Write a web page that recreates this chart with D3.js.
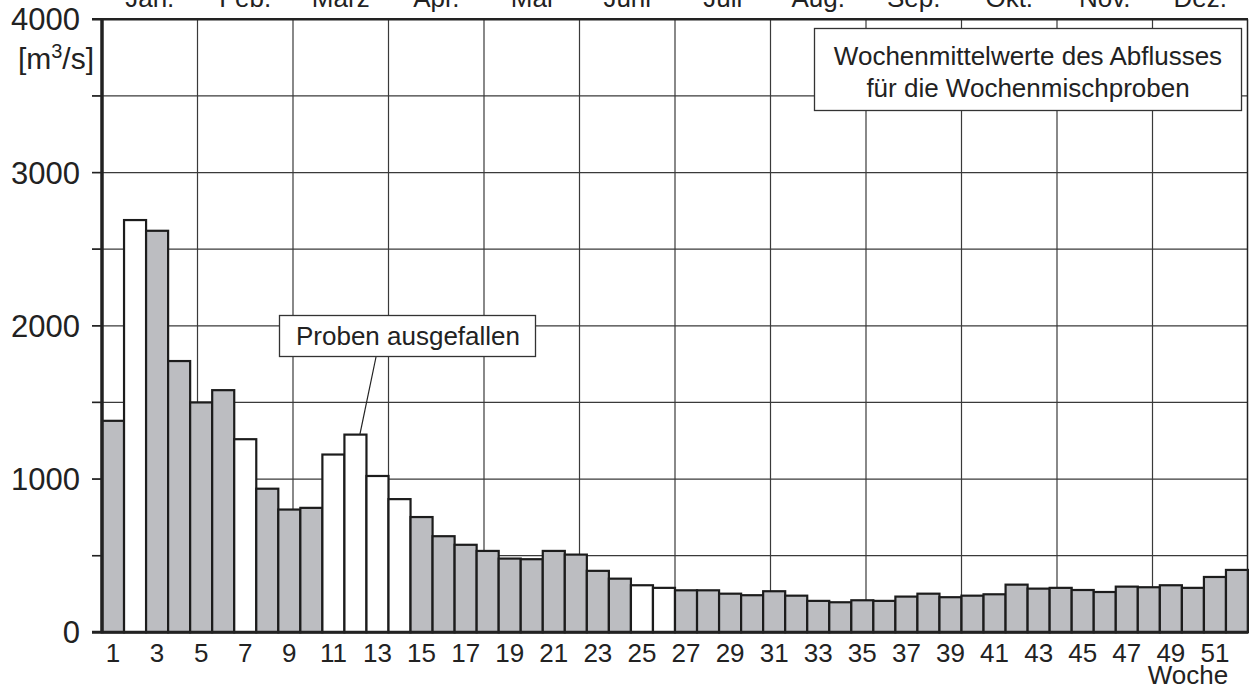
<!DOCTYPE html>
<html>
<head>
<meta charset="utf-8">
<script src="https://cdn.jsdelivr.net/npm/d3@7"></script>
<style>
  body { margin: 0; background: #fff; }
  svg text { font-family: "Liberation Sans", Arial, Helvetica, sans-serif; fill: #222; }
</style>
</head>
<body>
<div id="chart"></div>
<script>

  // ---------------------------//
  //            DATA            //
  // ---------------------------//

  var weeks = d3.range(1, 53);
  var discharge = [1380, 2690, 2620, 1770, 1500, 1580, 1260, 937, 801, 812,
                   1160, 1290, 1020, 869, 752, 627, 571, 531, 481, 477,
                   531, 507, 401, 350, 307, 290, 274, 274, 252, 242,
                   268, 239, 205, 196, 209, 205, 233, 252, 229, 239,
                   248, 311, 285, 290, 276, 263, 298, 294, 307, 290,
                   361, 407];
  // weeks without samples (drawn white)
  var missingWeeks = [2, 7, 11, 12, 13, 14, 25, 26];
  var months = ["Jan.", "Feb.", "März", "Apr.", "Mai", "Juni", "Juli", "Aug.", "Sep.", "Okt.", "Nov.", "Dez."];
  var yTicks = [0, 1000, 2000, 3000, 4000];
  var yGrid = d3.range(0, 4001, 500);
  var xTickWeeks = d3.range(1, 52, 2);
  var legendLines = ["Wochenmittelwerte des Abflusses", "für die Wochenmischproben"];
  var noteText = "Proben ausgefallen";
  var noteWeek = 12;

  // ---------------------------//
  //         DIMENSIONS         //
  // ---------------------------//

  var width = 1249;
  var height = 689;
  var margin = { top: 19.3, right: 1, bottom: 56.7, left: 102 };

  var svg = d3.select("#chart")
    .append("svg")
    .attr("width", width)
    .attr("height", height);

  // ---------------------------//
  //           SCALES           //
  // ---------------------------//

  var x = d3.scaleBand()
    .domain(weeks)
    .range([margin.left, width - margin.right])
    .padding(0);

  var xMonth = d3.scaleLinear()
    .domain([0, 12])
    .range([margin.left, width - margin.right]);

  var y = d3.scaleLinear()
    .domain([0, 4000])
    .range([height - margin.bottom, margin.top]);

  // ---------------------------//
  //            GRID            //
  // ---------------------------//

  svg.append("g")
    .selectAll("line")
    .data(yGrid.filter(function(d) { return d > 0 && d < 4000; }))
    .enter()
    .append("line")
    .attr("x1", margin.left - 10)
    .attr("x2", width - margin.right)
    .attr("y1", function(d) { return y(d); })
    .attr("y2", function(d) { return y(d); })
    .attr("stroke", "#3a3a3a")
    .attr("stroke-width", 1.2);

  svg.append("g")
    .selectAll("line")
    .data(d3.range(1, 12))
    .enter()
    .append("line")
    .attr("x1", function(d) { return xMonth(d); })
    .attr("x2", function(d) { return xMonth(d); })
    .attr("y1", y(4000))
    .attr("y2", y(0))
    .attr("stroke", "#3a3a3a")
    .attr("stroke-width", 1.2);

  // ---------------------------//
  //            BARS            //
  // ---------------------------//

  svg.append("g")
    .selectAll("rect")
    .data(weeks)
    .enter()
    .append("rect")
    .attr("x", function(d) { return x(d); })
    .attr("y", function(d) { return y(discharge[d - 1]); })
    .attr("width", x.bandwidth())
    .attr("height", function(d) { return y(0) - y(discharge[d - 1]); })
    .attr("fill", function(d) { return missingWeeks.indexOf(d) >= 0 ? "#ffffff" : "#bcbdc1"; })
    .attr("stroke", "#1c1c1c")
    .attr("stroke-width", 2.2);

  // ---------------------------//
  //            AXES            //
  // ---------------------------//

  // frame
  svg.append("line")
    .attr("x1", margin.left - 10).attr("x2", width - margin.right)
    .attr("y1", y(4000)).attr("y2", y(4000))
    .attr("stroke", "#222").attr("stroke-width", 2.5);

  svg.append("line")
    .attr("x1", width - margin.right - 0.5).attr("x2", width - margin.right - 0.5)
    .attr("y1", y(4000)).attr("y2", y(0))
    .attr("stroke", "#222").attr("stroke-width", 1.5);

  svg.append("line")
    .attr("x1", margin.left).attr("x2", margin.left)
    .attr("y1", y(4000)).attr("y2", y(0) + 1)
    .attr("stroke", "#222").attr("stroke-width", 3.5);

  svg.append("line")
    .attr("x1", margin.left - 10).attr("x2", width - margin.right)
    .attr("y1", y(0)).attr("y2", y(0))
    .attr("stroke", "#222").attr("stroke-width", 3);

  // y ticks
  svg.append("g")
    .selectAll("line")
    .data(yGrid)
    .enter()
    .append("line")
    .attr("x1", margin.left - 10)
    .attr("x2", margin.left)
    .attr("y1", function(d) { return y(d); })
    .attr("y2", function(d) { return y(d); })
    .attr("stroke", "#222")
    .attr("stroke-width", 1.5);

  svg.append("g")
    .selectAll("text")
    .data(yTicks)
    .enter()
    .append("text")
    .attr("x", 80)
    .attr("y", function(d) { return y(d); })
    .attr("dy", "0.36em")
    .attr("text-anchor", "end")
    .style("font-size", "31px")
    .text(function(d) { return d; });

  var unit = svg.append("text")
    .attr("x", 94)
    .attr("y", 69)
    .attr("text-anchor", "end")
    .style("font-size", "30px");
  unit.append("tspan").text("[m");
  unit.append("tspan").attr("dy", -11).style("font-size", "20px").text("3");
  unit.append("tspan").attr("dy", 11).text("/s]");

  // x ticks (weeks)
  svg.append("g")
    .selectAll("text")
    .data(xTickWeeks)
    .enter()
    .append("text")
    .attr("x", function(d) { return x(d) + x.bandwidth() / 2; })
    .attr("y", 662)
    .attr("text-anchor", "middle")
    .style("font-size", "26px")
    .text(function(d) { return d; });

  svg.append("text")
    .attr("x", 1188)
    .attr("y", 684)
    .attr("text-anchor", "middle")
    .style("font-size", "26px")
    .text("Woche");

  // month labels on top
  svg.append("g")
    .selectAll("text")
    .data(months)
    .enter()
    .append("text")
    .attr("x", function(d, i) { return xMonth(i + 0.5); })
    .attr("y", 7)
    .attr("text-anchor", "middle")
    .style("font-size", "26px")
    .text(function(d) { return d; });

  // ---------------------------//
  //           LEGEND           //
  // ---------------------------//

  var legend = svg.append("g");
  legend.append("rect")
    .attr("x", 814.5).attr("y", 28.5)
    .attr("width", 427).attr("height", 82)
    .attr("fill", "#fff")
    .attr("stroke", "#333")
    .attr("stroke-width", 1.3);

  legend.selectAll("text")
    .data(legendLines)
    .enter()
    .append("text")
    .attr("x", 1028)
    .attr("y", function(d, i) { return 65 + i * 32; })
    .attr("text-anchor", "middle")
    .style("font-size", "26px")
    .text(function(d) { return d; });

  // ---------------------------//
  //         ANNOTATION         //
  // ---------------------------//

  svg.append("line")
    .attr("x1", 376)
    .attr("y1", 357)
    .attr("x2", x(noteWeek) + x.bandwidth() * 0.7)
    .attr("y2", y(discharge[noteWeek - 1]))
    .attr("stroke", "#222")
    .attr("stroke-width", 1.2);

  svg.append("rect")
    .attr("x", 279.5).attr("y", 315.5)
    .attr("width", 256).attr("height", 41)
    .attr("fill", "#fff")
    .attr("stroke", "#333")
    .attr("stroke-width", 1.3);

  svg.append("text")
    .attr("x", 408)
    .attr("y", 345)
    .attr("text-anchor", "middle")
    .style("font-size", "26px")
    .text(noteText);

</script>
</body>
</html>
